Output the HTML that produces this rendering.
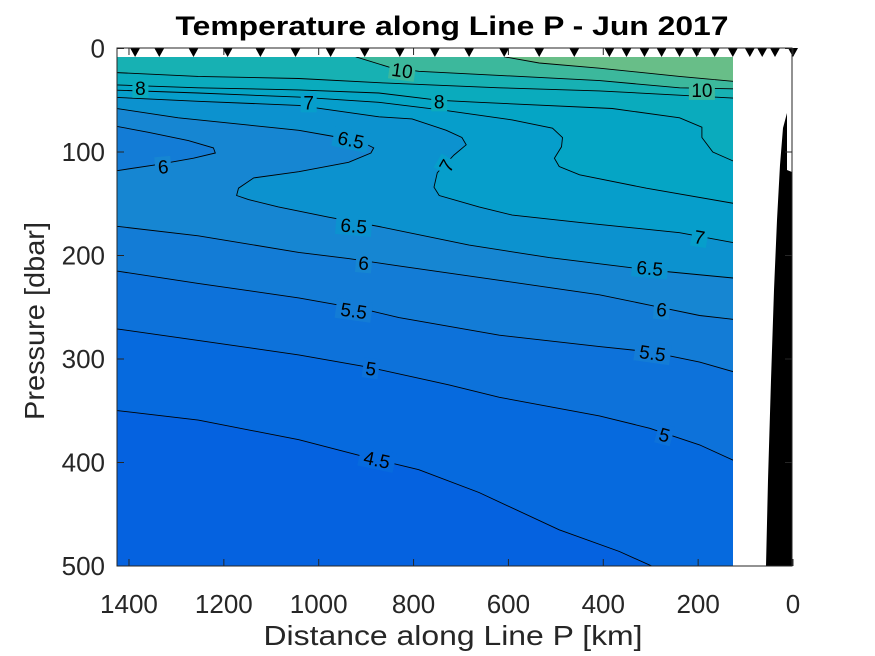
<!DOCTYPE html>
<html><head><meta charset="utf-8"><style>
html,body{margin:0;padding:0;background:#fff;}
svg{display:block;font-family:"Liberation Sans",Arial,sans-serif;}
</style></head><body>
<svg id="chart" width="875" height="656" viewBox="0 0 875 656" xmlns="http://www.w3.org/2000/svg">
<defs><clipPath id="dataclip"><rect x="117" y="57" width="616" height="509"/></clipPath></defs>
<text x="452" y="35" text-anchor="middle" font-size="27" font-weight="bold" fill="#000" textLength="553" lengthAdjust="spacingAndGlyphs">Temperature along Line P - Jun 2017</text>
<g id="fills" clip-path="url(#dataclip)"></g>
<g id="lines" clip-path="url(#dataclip)"></g>
<g id="labels"></g>
<path d="M766,566 L768,480 L771,380 L774,290 L777,220 L780,165 L783,128 L787,113 L787,170 L792,172 L792,566 Z" fill="#000"/>
<g id="stations"></g>
<g id="axes"></g>
<text x="453" y="645" text-anchor="middle" font-size="28" fill="#262626" textLength="379" lengthAdjust="spacingAndGlyphs">Distance along Line P [km]</text>
<text transform="translate(44,321) rotate(-90)" text-anchor="middle" font-size="28" fill="#262626" textLength="198" lengthAdjust="spacingAndGlyphs">Pressure [dbar]</text>
</svg>
<script>
// ---- data ----
const xTicks = [1400, 1200, 1000, 800, 600, 400, 200, 0];
const yTicks = [0, 100, 200, 300, 400, 500];
const stationKm = [1387,1336,1264,1192,1123,1049,975,903,829,755,683,609,535,461,387,351,313,277,239,203,165,127,91,65,38,0];
const levels = [4.5, 5, 5.5, 6, 6.5, 7, 7.5, 8, 9, 10, 11];
const bandColors = ['#0562e0','#066ade','#0d72da','#137cd6','#1686d2','#0c92cf','#069ecb','#05a5c5','#0aabbd','#17b1b3','#3cb89c','#68be88'];
const c45 = [[1440,349],[1254,359],[1042,378],[915,393],[789,407],[662,429],[493,465],[366,486],[298,500],[280,510],[120,510]];
const c5 = [[1440,270],[1254,282],[1042,296],[894,308],[725,325],[619,337],[408,355],[302,367],[197,383],[120,399]];
const c55 = [[1440,214],[1254,227],[1042,241],[894,253],[831,260],[619,277],[408,288],[302,293],[197,303],[120,313]];
const c6 = [[1440,171],[1254,181],[1042,197],[937,203],[831,210],[619,224],[408,238],[302,248],[197,258],[120,262]];
const c6lens = [[1440,74],[1359,81],[1275,89],[1222,96],[1218,101],[1264,106],[1338,112],[1440,119]];
const c65 = [[1440,57],[1296,67],[1148,74],[1042,79],[968,85],[915,89],[884,96],[890,101],[937,110],[1042,119],[1137,125],[1169,135],[1173,142],[1148,146],[1085,153],[979,163],[873,172],[683,190],[514,202],[302,214],[120,222]];
const c7 = [[1440,47],[1254,51],[1042,55],[873,66],[803,68],[731,79],[698,86],[689,93],[715,103],[750,120],[757,134],[746,142],[662,153],[592,161],[450,168],[239,178],[120,188]];
const c75 = [[1440,40],[1254,43],[1042,47],[873,52],[731,60],[592,69],[507,77],[486,86],[488,95],[503,106],[493,114],[450,122],[309,135],[120,150]];
const c8 = [[1440,35],[1254,38],[1042,40],[873,43],[746,50],[662,52],[381,58],[239,67],[192,76],[192,86],[169,100],[120,110]];
const c9 = [[1440,23],[1254,27],[1042,29],[873,33],[619,38],[408,41],[120,48]];
const c10 = [[922,8],[852,18],[789,22],[619,26],[408,31],[239,38],[120,39]];
const c11 = [[609,8],[535,14],[408,19],[239,27],[120,32]];
const labelText = ['10','10','8','8','7','6.5','6','7','6.5','7','6','6.5','5.5','6','5','5.5','4.5','5'];
const labelKm =   [824,192,1376,746,1021,932,1328,731,926,197,905,302,926,277,890,296,877,271];
const labelDbar = [21,40,38,51,52,88,114,113,171,182,207,212,253,252,309,294,397,373];
const labelRot =  [8,0,0,0,0,12,-5,-60,5,10,5,5,8,4,8,8,12,15];

// ---- scales ----
const X = km => 793 - km * 0.4743;
const Y = p => 48.5 + p * 1.035;
const NS = 'http://www.w3.org/2000/svg';
function mk(tag, attrs, parent){ const e=document.createElementNS(NS,tag); for(const k in attrs) e.setAttribute(k,attrs[k]); parent.appendChild(e); return e; }
const fills=document.getElementById('fills'), lines=document.getElementById('lines'), labels=document.getElementById('labels');
const ptsStr = arr => arr.map(p=>X(p[0]).toFixed(1)+','+Y(p[1]).toFixed(1)).join(' ');

const bg = mk('rect',{x:117,y:57,width:616,height:509,fill:bandColors[0]},fills);



const contourSet = [c45,c5,c55,c6,c65,c7,c75,c8,c9,c10,c11];
contourSet.forEach((c,i)=>{
  if(i===4){
    const lens = mk('polygon',{points:ptsStr(c6lens),fill:bandColors[3]},fills);
    
    
  }
  const poly = c.concat([[c[c.length-1][0],0],[c[0][0],0]]);
  const f = mk('polygon',{points:ptsStr(poly),fill:bandColors[i+1]},fills);
  
  
});
contourSet.concat([c6lens]).forEach((c,i)=>{
  const l = mk('polyline',{points:ptsStr(c),fill:'none',stroke:'#000','stroke-width':0.9},lines);
  
  
});
labelText.forEach((t,i)=>{
  const x=X(labelKm[i]), y=Y(labelDbar[i]);
  const lvl=parseFloat(t); let bi=levels.indexOf(lvl)+1;
  const g=mk('g',{transform:`translate(${x.toFixed(1)},${y.toFixed(1)}) rotate(${labelRot[i]})`},labels);
  
  
  const w=t.length*10+6;
  mk('rect',{x:-w/2,y:-10,width:w,height:20,fill:bandColors[Math.min(bi,bandColors.length-1)]},g);
  mk('text',{x:0,y:7,'text-anchor':'middle','font-size':19,fill:'#000'},g).textContent=t;
});
const axes=document.getElementById('axes'), st=document.getElementById('stations');
stationKm.forEach(k=>{
  const x=X(k);
  const tri=mk('polygon',{points:`${(x-5).toFixed(1)},48 ${(x+5).toFixed(1)},48 ${x.toFixed(1)},57`,fill:'#000'},st);
  
  
});
const box=mk('rect',{x:117,y:48,width:675,height:518,fill:'none',stroke:'#262626','stroke-width':1},axes);


xTicks.forEach(k=>{
  const x=X(k);
  mk('line',{x1:x,y1:566,x2:x,y2:559,stroke:'#262626'},axes);
  mk('line',{x1:x,y1:48,x2:x,y2:55,stroke:'#262626'},axes);
  const t=mk('text',{x:x,y:613,'text-anchor':'middle','font-size':26,fill:'#262626'},axes);
  
  
  t.textContent=k;
});
yTicks.forEach(p=>{
  const y=Y(p);
  mk('line',{x1:117,y1:y,x2:124,y2:y,stroke:'#262626'},axes);
  mk('line',{x1:792,y1:y,x2:785,y2:y,stroke:'#262626'},axes);
  const t=mk('text',{x:105,y:y+9,'text-anchor':'end','font-size':26,fill:'#262626'},axes);
  
  
  t.textContent=p;
});
</script>
</body></html>
